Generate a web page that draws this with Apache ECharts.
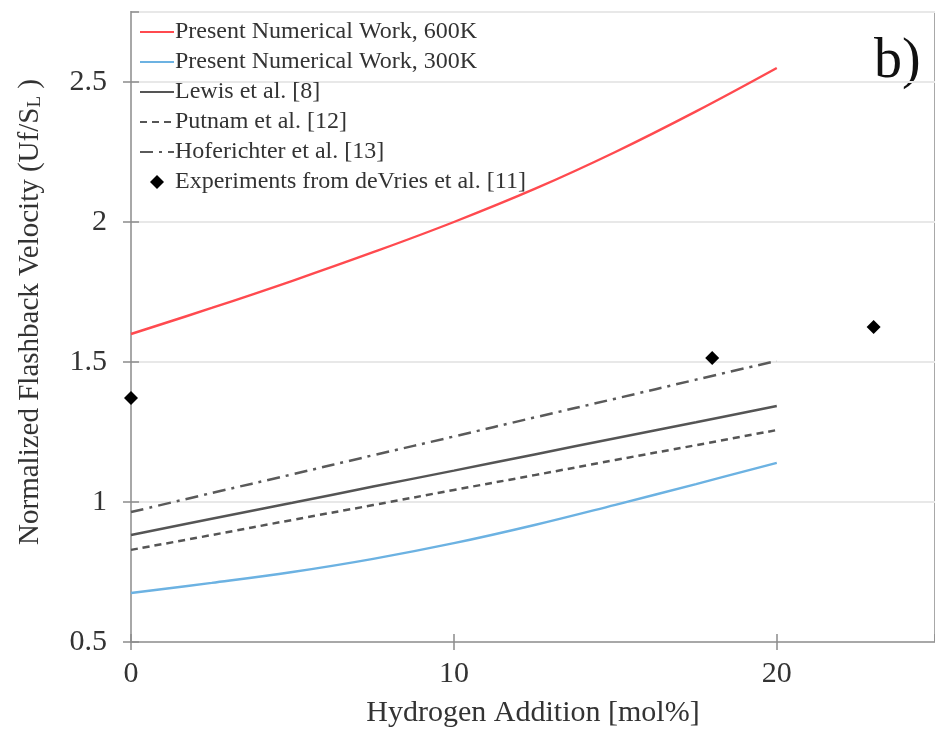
<!DOCTYPE html>
<html>
<head>
<meta charset="utf-8">
<script src="https://cdn.jsdelivr.net/npm/echarts@6/dist/echarts.min.js"></script>
<style>
  html, body { margin: 0; padding: 0; background: #fff; }
  #chart { width: 935px; height: 733px; }
</style>
</head>
<body>
<div id="chart"></div>
<script>
// Hydrogen addition (mol%) at which the model curves are sampled
const h2Addition = [0, 2.5, 5, 7.5, 10, 12.5, 15, 17.5, 20];

// Normalized flashback velocity Uf/SL
const numerical600K = [1.60, 1.693, 1.79, 1.892, 2.00, 2.118, 2.25, 2.395, 2.55];
const numerical300K = [0.675, 0.711, 0.75, 0.797, 0.853, 0.918, 0.99, 1.064, 1.14];
const lewis = [0.882, 0.94, 0.997, 1.055, 1.112, 1.17, 1.228, 1.285, 1.343];
const putnam = [0.829, 0.882, 0.936, 0.989, 1.043, 1.096, 1.150, 1.203, 1.257];
const hoferichter = [0.964, 1.032, 1.099, 1.167, 1.234, 1.302, 1.369, 1.437, 1.504];

// deVries et al. measurements
const expH2 = [0, 18, 23];
const expVelocity = [1.371, 1.514, 1.625];

const seriesNames = [
  'Present Numerical Work, 600K',
  'Present Numerical Work, 300K',
  'Lewis et al. [8]',
  'Putnam et al. [12]',
  'Hoferichter et al. [13]',
  'Experiments from deVries et al. [11]'
];

const serif = 'Liberation Serif';
const pair = (xs, ys) => xs.map((x, i) => [x, ys[i]]);

function lineSeries(name, data, color, width, type) {
  return {
    name, type: 'line', data, symbol: 'none', smooth: 0.4,
    lineStyle: { color, width, type },
    itemStyle: { color },
    z: 3
  };
}

const chart = echarts.init(document.getElementById('chart'));

const xBase = { type: 'value', min: 0, max: 24.9, interval: 10 };
const yBase = { type: 'value', min: 0.5, max: 2.75, interval: 0.5 };
const tickStyle = { color: '#8c8c8c', width: 1.5 };

chart.setOption({
  backgroundColor: '#fff',
  animation: false,
  grid: {
    left: 131, top: 12, bottom: 91, right: 0,
    show: true, borderColor: '#a8a8a8', borderWidth: 2, backgroundColor: 'transparent'
  },
  legend: {
    orient: 'vertical', left: 134, top: 15,
    itemWidth: 34, itemHeight: 14, itemGap: 6,
    itemStyle: { opacity: 0 },
    textStyle: { fontFamily: serif, fontSize: 24, color: '#333', padding: [0, 0, 0, -4] },
    data: seriesNames.slice(0, 5).concat([{
      name: seriesNames[5],
      icon: 'path://M6,0L12,6L6,12L0,6Z',
      itemStyle: { opacity: 1, color: '#000' }
    }])
  },
  xAxis: [
    Object.assign({}, xBase, {
      position: 'bottom',
      name: 'Hydrogen Addition [mol%]', nameLocation: 'middle', nameGap: 56,
      nameTextStyle: { fontFamily: serif, fontSize: 30, color: '#333' },
      axisLine: { lineStyle: { color: '#a8a8a8', width: 2 } },
      axisTick: { show: true, length: 8, lineStyle: tickStyle },
      axisLabel: { fontFamily: serif, fontSize: 30, color: '#333', margin: 17, showMaxLabel: false },
      splitLine: { show: false }
    }),
    // inner half of the crossing ticks
    Object.assign({}, xBase, {
      position: 'bottom',
      axisLine: { show: false },
      axisTick: { show: true, inside: true, length: 8, lineStyle: tickStyle },
      axisLabel: { show: false }, splitLine: { show: false }
    })
  ],
  yAxis: [
    Object.assign({}, yBase, {
      position: 'left',
      name: '{a|Normalized Flashback Velocity (Uf/S}{s|L}{a| )}',
      nameLocation: 'middle', nameGap: 86, nameRotate: 90,
      nameTextStyle: {
        padding: [0, 0, 0, 30],
        rich: {
          a: { fontFamily: serif, fontSize: 29, color: '#333' },
          s: { fontFamily: serif, fontSize: 19, color: '#333', verticalAlign: 'bottom', padding: [11, 0, 0, 0] }
        }
      },
      axisLine: { show: true, lineStyle: { color: '#a8a8a8', width: 2 } },
      axisTick: { show: true, length: 8, lineStyle: tickStyle },
      axisLabel: { fontFamily: serif, fontSize: 30, color: '#333', margin: 24, showMaxLabel: false },
      splitLine: { show: true, lineStyle: { color: '#e8e8e8', width: 2 } }
    }),
    Object.assign({}, yBase, {
      position: 'left',
      axisLine: { show: false },
      axisTick: { show: true, inside: true, length: 8, lineStyle: tickStyle },
      axisLabel: { show: false }, splitLine: { show: false }
    })
  ],
  graphic: [{
    type: 'text', left: 874, top: 34,
    style: { text: 'b)', font: '56px "Liberation Serif"', fill: '#111' }
  }],
  series: [
    lineSeries(seriesNames[0], pair(h2Addition, numerical600K), '#ff4a4f', 2.4, 'solid'),
    lineSeries(seriesNames[1], pair(h2Addition, numerical300K), '#6cb2e2', 2.4, 'solid'),
    lineSeries(seriesNames[2], pair(h2Addition, lewis), '#555555', 2.5, 'solid'),
    lineSeries(seriesNames[3], pair(h2Addition, putnam), '#555555', 2.5, [7, 5]),
    lineSeries(seriesNames[4], pair(h2Addition, hoferichter), '#5a5a5a', 2.5, [13, 6, 3, 6]),
    {
      name: seriesNames[5], type: 'scatter', symbol: 'diamond', symbolSize: 14,
      itemStyle: { color: '#000', opacity: 1 }, z: 4,
      data: pair(expH2, expVelocity)
    }
  ]
});
</script>
</body>
</html>
